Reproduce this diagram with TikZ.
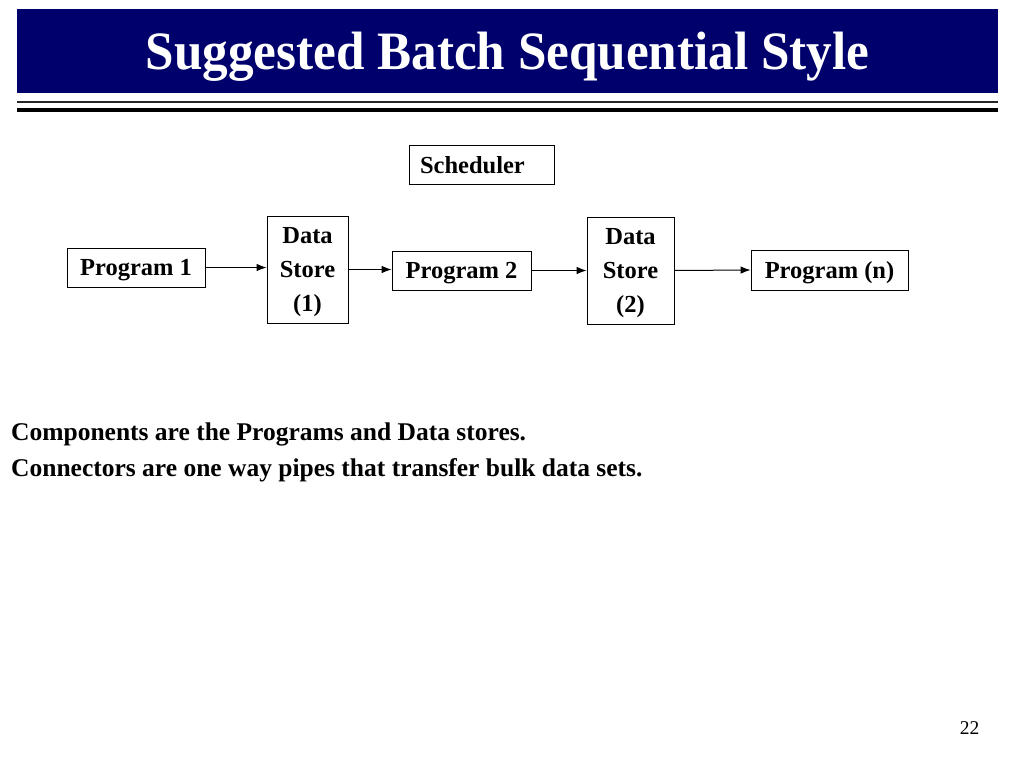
\documentclass[tikz,border=0pt]{standalone}
\usepackage{fontspec}
\setmainfont{Liberation Serif}
\newfontfamily\titlefont[FakeStretch=0.948]{Liberation Serif}
\usetikzlibrary{arrows.meta}
\definecolor{navy}{RGB}{0,0,108}

\tikzset{bnode/.style = {shape = rectangle,
                         draw = black,
                         line width = 0.8pt,
                         inner sep = 0pt,
                         text depth = 0pt,
                         align = center,
                         font = \fontsize{24.5}{34}\selectfont\bfseries}}

\begin{document}
\begin{tikzpicture}[x = 1pt, y = -1pt,
                    pipe/.style = {line width = 1pt,
                                   -{Latex[length = 10pt, width = 7.5pt]}}]
		\useasboundingbox (0,0) rectangle (1024,768);
		% header
		\fill[navy] (17,9) rectangle (998,93);
		\node[anchor = base, text = white,
		      font = \titlefont\fontsize{54}{60}\selectfont\bfseries] (title) at (507.5,70) {Suggested Batch Sequential Style};
		\draw[line width = 1.5pt, black!85] (17,102) -- (998,102);
		\draw[line width = 4pt] (17,110) -- (998,110);
		% boxes
		\node[bnode, minimum width = 145pt, minimum height = 39pt,
		      text width = 123pt, align = left] (sch) at (481.5,164.5) {Scheduler};
		\node[bnode, minimum width = 138pt, minimum height = 39pt] (p1) at (136,267.5) {Program 1};
		\node[bnode, minimum width = 81pt, minimum height = 107pt] (d1) at (307.5,269.5) {Data\\Store\\(1)};
		\node[bnode, minimum width = 139pt, minimum height = 39pt] (p2) at (461.5,270.5) {Program 2};
		\node[bnode, minimum width = 87pt, minimum height = 107pt] (d2) at (630.5,270.5) {Data\\Store\\(2)};
		\node[bnode, minimum width = 157pt, minimum height = 40pt] (pn) at (829.5,270) {Program (n)};
		% pipes
		\draw[pipe] (p1.east) -- (p1.east -| d1.west);
		\draw[pipe] (d1.east) -- (d1.east -| p2.west);
		\draw[pipe] (p2.east) -- (p2.east -| d2.west);
		\draw[pipe] (d2.east) -- (pn.west);
		% notes
		\node[anchor = base west, inner sep = 0pt, font = \fontsize{25.5}{30}\selectfont\bfseries] (c1) at (11,440) {Components are the Programs and Data stores.};
		\node[anchor = base west, inner sep = 0pt, font = \fontsize{25.5}{30}\selectfont\bfseries] (c2) at (11,476) {Connectors are one way pipes that transfer bulk data sets.};
		\node[anchor = base, inner sep = 0pt, font = \fontsize{19.5}{22}\selectfont] (pg) at (969.5,734) {22};
	\end{tikzpicture}
\end{document}
